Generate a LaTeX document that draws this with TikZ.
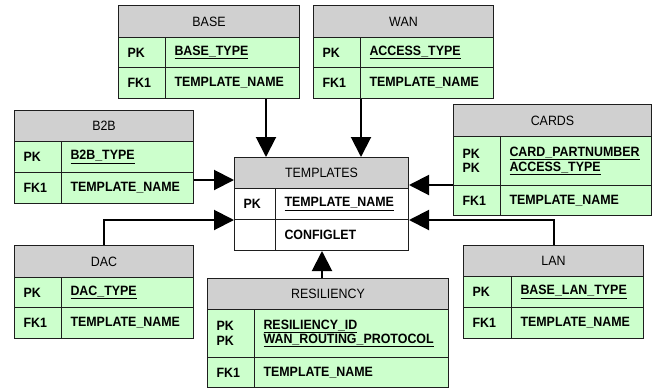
\documentclass[tikz,border=0pt]{standalone}
\usepackage{fontspec}
\setmainfont{Liberation Sans}
\newfontfamily\erfont[FakeStretch=0.92]{Liberation Sans}
\usetikzlibrary{arrows.meta}
\definecolor{hdrgray}{RGB}{208,208,208}
\definecolor{bodygreen}{RGB}{204,255,204}
\definecolor{edgecol}{RGB}{30,30,30}
\newcommand\ercell[7]{%
  \pgfmathsetmacro\ercw{#5-#3}%
  \pgfmathsetmacro\erch{#6-#4}%
  \pgfmathsetmacro\ertw{#5-#3-18}%
  \node[#2,anchor=north west,minimum width=\ercw pt,minimum height=\erch pt,text width=\ertw pt] (#1) at (#3,#4) {#7};}
\tikzset{
  cellbase/.style={draw=edgecol, line width=1pt, rectangle, inner xsep=9pt, inner ysep=0pt},
  hdrcell/.style={cellbase, fill=hdrgray, align=center, font=\erfont\fontsize{13.5}{14.5}\selectfont},
  keycell/.style={cellbase, fill=bodygreen, align=left, font=\erfont\bfseries\fontsize{13.5}{14.5}\selectfont},
  plaincell/.style={keycell, fill=white},
  fk/.style={draw=black, line width=2pt, -{Triangle[length=20pt,width=20pt]}},
}
\begin{document}
\begin{tikzpicture}[x=1pt,y=-1pt]
\useasboundingbox (0,0) rectangle (661,389);
% TEMPLATES
\ercell{tplH}{hdrcell}{234}{157}{408}{188}{TEMPLATES}
\ercell{tplPKk}{plaincell}{234}{188}{275}{219}{PK}
\ercell{tplPKv}{plaincell}{275}{188}{408}{219}{\underline{TEMPLATE\_NAME}}
\ercell{tplCk}{plaincell}{234}{219}{275}{250}{}
\ercell{tplCv}{plaincell}{275}{219}{408}{250}{CONFIGLET}
% BASE
\ercell{baseH}{hdrcell}{118}{5}{299}{37}{BASE}
\ercell{basePKk}{keycell}{118}{37}{165}{67}{PK}
\ercell{basePKv}{keycell}{165}{37}{299}{67}{\underline{BASE\_TYPE}}
\ercell{baseFKk}{keycell}{118}{67}{165}{98}{FK1}
\ercell{baseFKv}{keycell}{165}{67}{299}{98}{TEMPLATE\_NAME}
% WAN
\ercell{wanH}{hdrcell}{313}{5}{493}{37}{WAN}
\ercell{wanPKk}{keycell}{313}{37}{360}{67}{PK}
\ercell{wanPKv}{keycell}{360}{37}{493}{67}{\underline{ACCESS\_TYPE}}
\ercell{wanFKk}{keycell}{313}{67}{360}{98}{FK1}
\ercell{wanFKv}{keycell}{360}{67}{493}{98}{TEMPLATE\_NAME}
% B2B
\ercell{b2bH}{hdrcell}{14}{110}{193}{141}{B2B}
\ercell{b2bPKk}{keycell}{14}{141}{61}{172}{PK}
\ercell{b2bPKv}{keycell}{61}{141}{193}{172}{\underline{B2B\_TYPE}}
\ercell{b2bFKk}{keycell}{14}{172}{61}{203}{FK1}
\ercell{b2bFKv}{keycell}{61}{172}{193}{203}{TEMPLATE\_NAME}
% CARDS
\ercell{cardH}{hdrcell}{453}{104}{651}{136}{CARDS}
\ercell{cardPKk}{keycell}{453}{136}{500}{185}{PK\\PK}
\ercell{cardPKv}{keycell}{500}{136}{651}{185}{\underline{CARD\_PARTNUMBER}\\\underline{ACCESS\_TYPE}}
\ercell{cardFKk}{keycell}{453}{185}{500}{215}{FK1}
\ercell{cardFKv}{keycell}{500}{185}{651}{215}{TEMPLATE\_NAME}
% DAC
\ercell{dacH}{hdrcell}{14}{245}{193}{277}{DAC}
\ercell{dacPKk}{keycell}{14}{277}{61}{307}{PK}
\ercell{dacPKv}{keycell}{61}{277}{193}{307}{\underline{DAC\_TYPE}}
\ercell{dacFKk}{keycell}{14}{307}{61}{338}{FK1}
\ercell{dacFKv}{keycell}{61}{307}{193}{338}{TEMPLATE\_NAME}
% RESILIENCY
\ercell{resH}{hdrcell}{207}{278}{448}{309}{RESILIENCY}
\ercell{resPKk}{keycell}{207}{309}{254}{357}{PK\\PK}
\ercell{resPKv}{keycell}{254}{309}{448}{357}{\underline{RESILIENCY\_ID}\\\underline{WAN\_ROUTING\_PROTOCOL}}
\ercell{resFKk}{keycell}{207}{357}{254}{387}{FK1}
\ercell{resFKv}{keycell}{254}{357}{448}{387}{TEMPLATE\_NAME}
% LAN
\ercell{lanH}{hdrcell}{463}{245}{643}{276}{LAN}
\ercell{lanPKk}{keycell}{463}{276}{511}{307}{PK}
\ercell{lanPKv}{keycell}{511}{276}{643}{307}{\underline{BASE\_LAN\_TYPE}}
\ercell{lanFKk}{keycell}{463}{307}{511}{338}{FK1}
\ercell{lanFKv}{keycell}{511}{307}{643}{338}{TEMPLATE\_NAME}
% connector start points
\coordinate (baseOut) at ([xshift=101pt]baseFKv.south west);
\coordinate (b2bOut) at ([yshift=-8pt]b2bFKv.north east);
\coordinate (dacOut) at ([xshift=90pt]dacH.north west);
\coordinate (cardOut) at (cardFKk.north west);
\coordinate (lanOut) at (lanH.north);
\coordinate (resOut) at ([xshift=-6pt]resH.north);
% connectors
\draw[fk] (baseOut) -- (baseOut |- tplH.north);
\draw[fk] (wanFKk.south east) -- (wanFKk.south east |- tplH.north);
\draw[fk] (b2bOut) -- (b2bOut -| tplH.west);
\draw[fk] (dacOut) |- (tplPKk.south west);
\draw[fk] (cardOut) -- (cardOut -| tplH.east);
\draw[fk] (lanOut) |- (tplPKv.south east);
\draw[fk] (resOut) -- (resOut |- tplCv.south);
\end{tikzpicture}
\end{document}
